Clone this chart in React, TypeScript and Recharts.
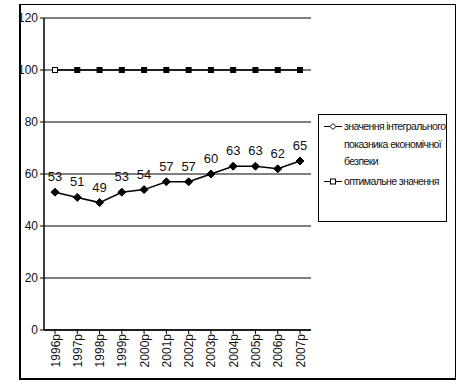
import React from "react";
import {
  LineChart,
  Line,
  XAxis,
  YAxis,
  CartesianGrid,
  Legend,
  LabelList,
} from "recharts";

// values
const years = [
  "1996р", "1997р", "1998р", "1999р", "2000р", "2001р",
  "2002р", "2003р", "2004р", "2005р", "2006р", "2007р",
];
const integralValues = [53, 51, 49, 53, 54, 57, 57, 60, 63, 63, 62, 65];
const optimalValues = [100, 100, 100, 100, 100, 100, 100, 100, 100, 100, 100, 100];
const yTicks = [0, 20, 40, 60, 80, 100, 120];

const integralLines = ["значення інтегрального", "показника економічної", "безпеки"];
const optimalName = "оптимальне значення";

const data = years.map((year, i) => ({
  year,
  integral: integralValues[i],
  optimal: optimalValues[i],
}));

const font = '"Liberation Sans Narrow", "Arial Narrow", "Liberation Sans", Arial, sans-serif';

const Diamond = (props: any) => {
  const { cx, cy } = props;
  if (cx == null || cy == null) return null;
  const r = 4;
  return (
    <polygon
      points={`${cx},${cy - r} ${cx + r},${cy} ${cx},${cy + r} ${cx - r},${cy}`}
      fill="#000"
      stroke="#000"
    />
  );
};

const Square = (props: any) => {
  const { cx, cy, index } = props;
  if (cx == null || cy == null) return null;
  return (
    <rect
      x={cx - 2.5}
      y={cy - 2.5}
      width={5}
      height={5}
      fill={index === 0 ? "#fff" : "#000"}
      stroke="#000"
    />
  );
};

const textStyle: React.CSSProperties = {
  whiteSpace: "nowrap",
  letterSpacing: -0.6,
};

const LegendBox = () => (
  <div
    style={{
      border: "1px solid #000",
      width: 129,
      height: 108,
      boxSizing: "border-box",
      padding: "3px 0 0 3px",
      fontFamily: font,
      fontSize: 10.5,
      color: "#111",
      lineHeight: "17.5px",
      background: "#fff",
    }}
  >
    <div style={{ display: "flex", alignItems: "flex-start" }}>
      <svg width={22} height={17} style={{ flex: "none" }}>
        <line x1={2} y1={8.5} x2={20} y2={8.5} stroke="#000" />
        <polygon points="11,5.5 14,8.5 11,11.5 8,8.5" fill="#fff" stroke="#000" />
      </svg>
      <span style={textStyle}>
        {integralLines.map((t, i) => (
          <React.Fragment key={t}>
            {i > 0 && <br />}
            {t}
          </React.Fragment>
        ))}
      </span>
    </div>
    <div style={{ display: "flex", alignItems: "flex-start", marginTop: 2 }}>
      <svg width={22} height={17} style={{ flex: "none" }}>
        <line x1={2} y1={8.5} x2={20} y2={8.5} stroke="#000" />
        <rect x={8.5} y={6} width={5} height={5} fill="#fff" stroke="#000" />
      </svg>
      <span style={textStyle}>{optimalName}</span>
    </div>
  </div>
);

export default function App() {
  return (
    <div
      style={{
        position: "absolute",
        left: 0,
        top: 0,
        width: 461,
        height: 384,
        background: "#fff",
      }}
    >
      <div
        style={{
          position: "absolute",
          left: 19,
          top: 4,
          width: 437,
          height: 376,
          borderTop: "1px solid #000",
          borderRight: "1px solid #000",
          borderLeft: "2px solid #000",
          borderBottom: "2px solid #000",
          boxSizing: "border-box",
        }}
      />
      <LineChart
        width={461}
        height={384}
        data={data}
        margin={{ top: 18, right: 150, bottom: 4, left: 0 }}
        style={{ position: "absolute", left: 0, top: 0, fontFamily: font }}
      >
        <CartesianGrid vertical={false} stroke="#000" strokeWidth={1} />
        <XAxis
          dataKey="year"
          height={50}
          interval={0}
          padding={{ left: 11, right: 11 }}
          angle={-90}
          textAnchor="end"
          dx={-4}
          dy={-2}
          tick={{ fill: "#111", fontSize: 12, fontFamily: font }}
          axisLine={{ stroke: "#000", strokeWidth: 1.5 }}
          tickLine={{ stroke: "#000" }}
          tickSize={4}
        />
        <YAxis
          domain={[0, 120]}
          ticks={yTicks}
          width={44}
          interval={0}
          tick={{ fill: "#111", fontSize: 12, fontFamily: font }}
          axisLine={{ stroke: "#000", strokeWidth: 1.5 }}
          tickLine={{ stroke: "#000" }}
          tickSize={4}
        />
        <YAxis
          yAxisId="frame"
          orientation="right"
          width={0}
          tick={false}
          tickLine={false}
          axisLine={{ stroke: "#000" }}
        />
        <Line
          dataKey="optimal"
          name={optimalName}
          stroke="#000"
          strokeWidth={1.5}
          dot={<Square />}
          activeDot={false}
          isAnimationActive={false}
        />
        <Line
          dataKey="integral"
          name={integralLines.join(" ")}
          stroke="#000"
          strokeWidth={1.5}
          dot={<Diamond />}
          activeDot={false}
          isAnimationActive={false}
        >
          <LabelList
            dataKey="integral"
            position="top"
            offset={11}
            fill="#111"
            fontSize={13}
            fontFamily={font}
          />
        </Line>
        <Legend
          layout="horizontal"
          verticalAlign="middle"
          align="center"
          content={<LegendBox />}
          wrapperStyle={{ left: 318, top: 114, width: 129, height: 108 }}
        />
      </LineChart>
    </div>
  );
}
